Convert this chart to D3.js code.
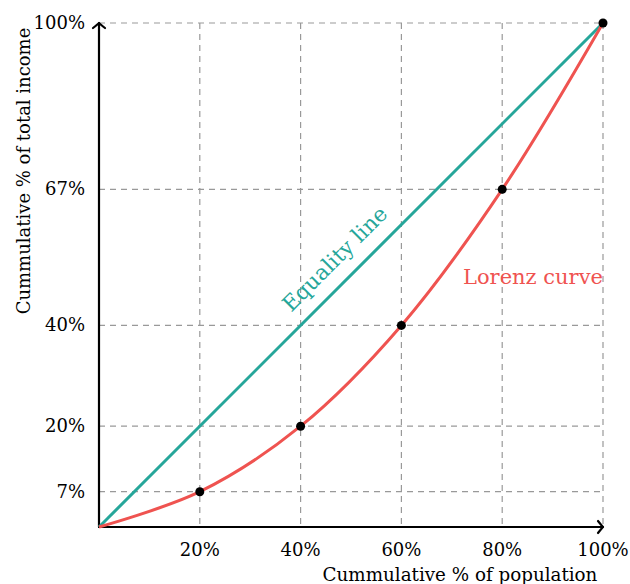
<!DOCTYPE html>
<html>
<head>
<meta charset="utf-8">
<script src="https://cdn.jsdelivr.net/npm/d3@7"></script>
<style>
  body { margin: 0; background: #fff; }
  svg text { font-family: "DejaVu Serif", "Liberation Serif", serif; }
</style>
</head>
<body>
<script>
const population = [0, 20, 40, 60, 80, 100];
const income = [0, 7, 20, 40, 67, 100];
const xTicks = [20, 40, 60, 80, 100];
const yTicks = [7, 20, 40, 67, 100];
const equality = [0, 100];

const width = 630, height = 584;
const svg = d3.select("body").append("svg")
  .attr("width", width)
  .attr("height", height);

const x = d3.scaleLinear().domain([0, 100]).range([99, 603]);
const y = d3.scaleLinear().domain([0, 100]).range([527, 23]);

// grid
svg.append("g")
  .selectAll("line")
  .data(xTicks)
  .join("line")
  .attr("x1", d => x(d)).attr("x2", d => x(d))
  .attr("y1", y(100)).attr("y2", y(0))
  .attr("stroke", "#999").attr("stroke-width", 1.2)
  .attr("stroke-dasharray", "6,5");

svg.append("g")
  .selectAll("line")
  .data(yTicks)
  .join("line")
  .attr("x1", x(0)).attr("x2", x(100))
  .attr("y1", d => y(d)).attr("y2", d => y(d))
  .attr("stroke", "#999").attr("stroke-width", 1.2)
  .attr("stroke-dasharray", "6,5");

// axes with arrow tips
const axes = svg.append("g").attr("stroke", "#000").attr("fill", "none")
  .attr("stroke-width", 2.2).attr("stroke-linecap", "round").attr("stroke-linejoin", "round");
axes.append("line").attr("x1", x(0)).attr("y1", y(0)).attr("x2", x(100)).attr("y2", y(0));
axes.append("line").attr("x1", x(0)).attr("y1", y(0)).attr("x2", x(0)).attr("y2", y(100));
axes.append("path") // x arrow head
  .attr("d", `M${x(100) - 5},${y(0) - 6} Q${x(100) - 1},${y(0) - 1} ${x(100)},${y(0)} Q${x(100) - 1},${y(0) + 1} ${x(100) - 5},${y(0) + 6}`);
axes.append("path") // y arrow head
  .attr("d", `M${x(0) - 6},${y(100) + 5} Q${x(0) - 1},${y(100) + 1} ${x(0)},${y(100)} Q${x(0) + 1},${y(100) + 1} ${x(0) + 6},${y(100) + 5}`);

// tick labels
svg.append("g")
  .selectAll("text")
  .data(xTicks)
  .join("text")
  .attr("x", d => x(d)).attr("y", 556)
  .attr("text-anchor", "middle")
  .attr("font-size", 18)
  .text(d => d + "%");

svg.append("g")
  .selectAll("text")
  .data(yTicks)
  .join("text")
  .attr("x", 85).attr("y", d => y(d) + 6)
  .attr("text-anchor", "end")
  .attr("font-size", 18)
  .text(d => d + "%");

// axis titles
svg.append("text")
  .attr("x", 460).attr("y", 581)
  .attr("text-anchor", "middle")
  .attr("font-size", 18.3)
  .text("Cummulative % of population");

svg.append("text")
  .attr("transform", "translate(30,171) rotate(-90)")
  .attr("text-anchor", "middle")
  .attr("font-size", 18)
  .text("Cummulative % of total income");

// equality line
svg.append("line")
  .attr("x1", x(equality[0])).attr("y1", y(equality[0]))
  .attr("x2", x(equality[1])).attr("y2", y(equality[1]))
  .attr("stroke", "#26a69a").attr("stroke-width", 3);

// lorenz curve
const pts = population.map((p, i) => [p, income[i]]);
const line = d3.line()
  .x(d => x(d[0])).y(d => y(d[1]))
  .curve(d3.curveCatmullRom.alpha(0.5));
svg.append("path")
  .datum(pts)
  .attr("d", line)
  .attr("fill", "none")
  .attr("stroke", "#ef5350").attr("stroke-width", 3);

svg.append("g")
  .selectAll("circle")
  .data(pts.slice(1))
  .join("circle")
  .attr("cx", d => x(d[0])).attr("cy", d => y(d[1]))
  .attr("r", 4.5)
  .attr("fill", "#000");

// labels
svg.append("text")
  .attr("transform", "translate(340,264) rotate(-45)")
  .attr("text-anchor", "middle")
  .attr("font-size", 21.5)
  .attr("fill", "#26a69a")
  .text("Equality line");

svg.append("text")
  .attr("x", 463).attr("y", 284)
  .attr("font-size", 21)
  .attr("fill", "#ef5350")
  .text("Lorenz curve");
</script>
</body>
</html>
